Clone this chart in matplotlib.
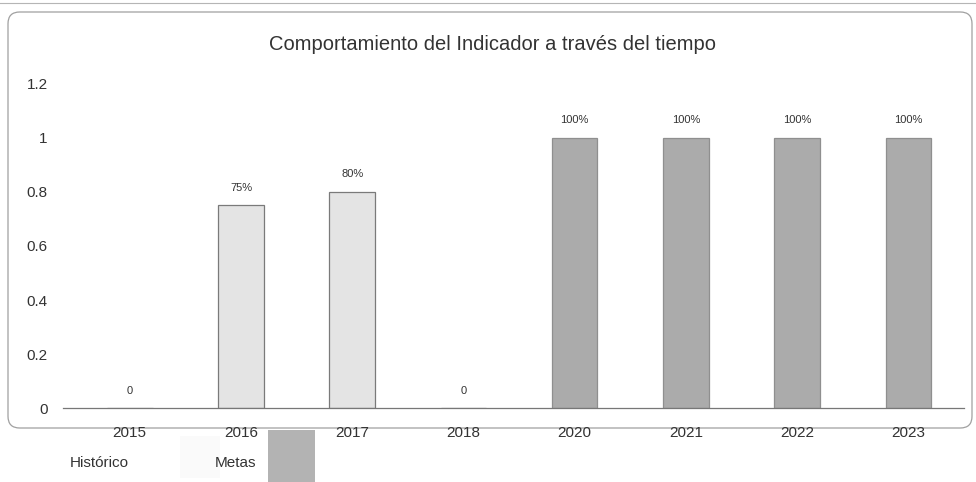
import matplotlib.pyplot as plt
from matplotlib.patches import FancyBboxPatch, Rectangle

plt.rcParams['font.family'] = ['Liberation Sans', 'DejaVu Sans']

# datos del indicador
years = ['2015', '2016', '2017', '2018', '2020', '2021', '2022', '2023']
values = [0, 0.75, 0.8, 0, 1, 1, 1, 1]
labels = ['0', '75%', '80%', '0', '100%', '100%', '100%', '100%']
kind = ['hist', 'hist', 'hist', 'hist', 'meta', 'meta', 'meta', 'meta']
y_ticks = [0, 0.2, 0.4, 0.6, 0.8, 1, 1.2]
y_tick_labels = ['0', '0.2', '0.4', '0.6', '0.8', '1', '1.2']

colors = {'hist': '#e4e4e4', 'meta': '#ababab'}
edges = {'hist': '#7a7a7a', 'meta': '#8f8f8f'}

fig = plt.figure(figsize=(9.76, 4.82), dpi=100)
W, H = 976, 482

# marco redondeado del grafico
frame = FancyBboxPatch((8 / W, 1 - 428 / H), 964 / W, 416 / H,
                       boxstyle='round,pad=0,rounding_size=0.012',
                       mutation_aspect=2.025, transform=fig.transFigure,
                       facecolor='white', edgecolor='#a0a0a0', linewidth=0.9,
                       zorder=-5)
fig.patches.append(frame)
fig.add_artist(plt.Line2D([0, 1], [1 - 3 / H, 1 - 3 / H], transform=fig.transFigure,
                          color='#b5b5b5', linewidth=0.8, zorder=-5))

ax = fig.add_axes([63 / W, 1 - 408 / H, 901 / W, (408 - 84) / H])
ax.set_facecolor('none')
x = range(len(years))
bars = ax.bar(x, values, width=0.41,
              color=[colors[k] for k in kind],
              edgecolor=[edges[k] for k in kind], linewidth=0.9)

for xi, v, lab in zip(x, values, labels):
    ax.annotate(lab, (xi, v), xytext=(0, 9), textcoords='offset points',
                ha='center', va='bottom', fontsize=8, color='#333333')

ax.set_ylim(0, 1.2)
ax.set_xlim(-0.6, len(years) - 0.5)
ax.set_yticks(y_ticks)
ax.set_yticklabels(y_tick_labels)
ax.set_xticks(list(x))
ax.set_xticklabels(years)
ax.tick_params(axis='y', length=0, pad=11, labelsize=11, labelcolor='#333333')
ax.tick_params(axis='x', length=0, pad=13, labelsize=11, labelcolor='#333333')
for side in ['top', 'right', 'left']:
    ax.spines[side].set_visible(False)
ax.spines['bottom'].set_color('#777777')
ax.spines['bottom'].set_linewidth(0.9)

fig.text(0.505, 1 - 45 / H, 'Comportamiento del Indicador a través del tiempo',
         ha='center', va='center', fontsize=14.5, color='#333333')

# leyenda debajo del marco
fig.text(70 / W, 1 - 463 / H, 'Histórico', ha='left', va='center',
         fontsize=11, color='#333333')
fig.patches.append(Rectangle((180 / W, 1 - 478 / H), 40 / W, 42 / H,
                             transform=fig.transFigure, facecolor='#fafafa',
                             edgecolor='none'))
fig.text(215 / W, 1 - 463 / H, 'Metas', ha='left', va='center',
         fontsize=11, color='#333333')
fig.patches.append(Rectangle((268 / W, 0), 47 / W, 52 / H,
                             transform=fig.transFigure, facecolor='#b3b3b3',
                             edgecolor='none'))

fig.savefig('out.png', dpi=100)
